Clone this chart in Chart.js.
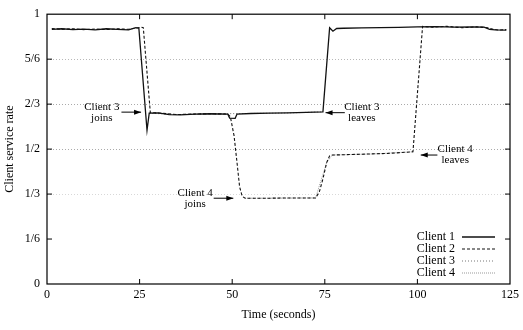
<!DOCTYPE html>
<html>
<head>
<meta charset="utf-8">
<script src="https://cdn.jsdelivr.net/npm/chart.js@4"></script>
<style>
  html, body { margin: 0; padding: 0; background: #fff; }
  canvas { display: block; }
</style>
</head>
<body>
<canvas id="chart" width="523" height="330"></canvas>
<script>
// === Data ===
const seriesNames = ["Client 1", "Client 2", "Client 3", "Client 4"];

const client1T = [1.3, 4, 7, 10, 13, 16, 19, 22, 24, 24.8, 27, 27.6, 30, 33, 36, 40, 44, 48.8, 49.3, 50.8, 51.3, 55, 60, 65, 70, 74.5, 76.3, 77.2, 78.2, 80, 85, 90, 95, 100, 105, 110, 115, 118, 119.5, 121, 124];
const client1V = [0.944, 0.946, 0.943, 0.945, 0.942, 0.946, 0.944, 0.942, 0.95, 0.948, 0.57, 0.633, 0.634, 0.628, 0.627, 0.630, 0.631, 0.630, 0.615, 0.614, 0.630, 0.632, 0.633, 0.634, 0.636, 0.638, 0.95, 0.937, 0.947, 0.948, 0.949, 0.950, 0.951, 0.953, 0.954, 0.952, 0.953, 0.952, 0.944, 0.942, 0.941];

const client2T = [1.3, 4, 7, 10, 13, 16, 19, 22, 25.5, 26, 27.9, 30, 35, 40, 44, 48.8, 49.5, 50.5, 51.3, 52, 52.7, 53.5, 60, 66, 72.5, 73.5, 74.5, 75.5, 76.3, 77, 85, 92, 98.8, 101.4, 104, 108, 112, 116, 119, 120.5, 122, 124];
const client2V = [0.947, 0.944, 0.946, 0.943, 0.945, 0.943, 0.946, 0.944, 0.952, 0.95, 0.635, 0.634, 0.628, 0.630, 0.631, 0.630, 0.62, 0.55, 0.45, 0.36, 0.325, 0.318, 0.318, 0.319, 0.319, 0.34, 0.39, 0.45, 0.475, 0.478, 0.481, 0.484, 0.49, 0.955, 0.952, 0.955, 0.95, 0.953, 0.95, 0.944, 0.941, 0.943];

const client3T = [27.6, 35, 45, 55, 65, 74.5];
const client3V = [0.633, 0.628, 0.631, 0.632, 0.634, 0.638];

const client4T = [53.5, 60, 72.5, 75.5, 77, 88, 98.8];
const client4V = [0.318, 0.318, 0.319, 0.45, 0.478, 0.482, 0.49];

const xTicks = [0, 25, 50, 75, 100, 125];
const yTickValues = [0, 1/6, 1/3, 1/2, 2/3, 5/6, 1];
const yTickLabels = ["0", "1/6", "1/3", "1/2", "2/3", "5/6", "1"];

// annotation texts with arrow (from -> to), in data units
const notes = [
  { lines: ["Client 3", "joins"],  at: [14.8, 0.657], from: [20.1, 0.637], to: [25.4, 0.637] },
  { lines: ["Client 3", "leaves"], at: [85.0, 0.657], from: [80.4, 0.635], to: [75.2, 0.635] },
  { lines: ["Client 4", "joins"],  at: [40.0, 0.336], from: [45.0, 0.318], to: [50.3, 0.318] },
  { lines: ["Client 4", "leaves"], at: [110.2, 0.500], from: [105.4, 0.478], to: [100.9, 0.478] }
];

// === Styles ===
const SERIF = "'Liberation Serif', 'DejaVu Serif', serif";
const lineStyles = [
  { color: "#111", width: 1.3, dash: [] },
  { color: "#111", width: 1.1, dash: [3, 2] },
  { color: "#777", width: 1.0, dash: [1, 2] },
  { color: "#999", width: 1.0, dash: [1, 1] }
];
const gridColors = ["rgba(0,0,0,0)", "rgba(0,0,0,0)", "#d8d8d8", "#aaa", "#aaa", "#b8b8b8", "rgba(0,0,0,0)"];

const pairs = (ts, vs) => ts.map((t, i) => ({ x: t, y: vs[i] }));
const allData = [pairs(client1T, client1V), pairs(client2T, client2V), pairs(client3T, client3V), pairs(client4T, client4V)];

const datasets = seriesNames.map((name, i) => ({
  label: name,
  data: allData[i],
  borderColor: lineStyles[i].color,
  borderWidth: lineStyles[i].width,
  borderDash: lineStyles[i].dash,
  pointRadius: 0,
  tension: 0,
  fill: false
}));

// frame, inward ticks, legend, annotations
const decor = {
  id: "decor",
  afterDatasetsDraw(chart) {
    const { ctx, chartArea: a, scales: { x, y } } = chart;
    ctx.save();
    ctx.strokeStyle = "#000";
    ctx.lineWidth = 1.2;
    ctx.setLineDash([]);
    ctx.strokeRect(a.left, a.top, a.right - a.left, a.bottom - a.top);

    const tl = 5;
    ctx.lineWidth = 1;
    ctx.beginPath();
    xTicks.slice(1, -1).forEach(v => {
      const px = x.getPixelForValue(v);
      ctx.moveTo(px, a.bottom); ctx.lineTo(px, a.bottom - tl);
      ctx.moveTo(px, a.top); ctx.lineTo(px, a.top + tl);
    });
    yTickValues.slice(1, -1).forEach(v => {
      const py = y.getPixelForValue(v);
      ctx.moveTo(a.left, py); ctx.lineTo(a.left + tl, py);
      ctx.moveTo(a.right, py); ctx.lineTo(a.right - tl, py);
    });
    ctx.stroke();

    // legend (bottom right, inside the plot)
    ctx.font = "12px " + SERIF;
    ctx.fillStyle = "#000";
    ctx.textAlign = "right";
    ctx.textBaseline = "middle";
    datasets.forEach((ds, i) => {
      const ry = a.bottom - 47 + i * 12;
      ctx.fillText(ds.label, a.right - 55, ry);
      ctx.beginPath();
      ctx.strokeStyle = ds.borderColor;
      ctx.lineWidth = ds.borderWidth;
      ctx.setLineDash(ds.borderDash);
      ctx.moveTo(a.right - 48, ry);
      ctx.lineTo(a.right - 15, ry);
      ctx.stroke();
    });

    // annotations
    ctx.setLineDash([]);
    ctx.strokeStyle = "#000";
    ctx.fillStyle = "#000";
    ctx.lineWidth = 1;
    ctx.font = "11px " + SERIF;
    ctx.textAlign = "center";
    notes.forEach(n => {
      const tx = x.getPixelForValue(n.at[0]);
      const ty = y.getPixelForValue(n.at[1]);
      n.lines.forEach((s, k) => ctx.fillText(s, tx, ty + k * 11));
      const x1 = x.getPixelForValue(n.from[0]), y1 = y.getPixelForValue(n.from[1]);
      const x2 = x.getPixelForValue(n.to[0]), y2 = y.getPixelForValue(n.to[1]);
      ctx.beginPath();
      ctx.moveTo(x1, y1); ctx.lineTo(x2, y2);
      ctx.stroke();
      const dir = Math.sign(x2 - x1);
      ctx.beginPath();
      ctx.moveTo(x2, y2);
      ctx.lineTo(x2 - dir * 7, y2 - 2.5);
      ctx.lineTo(x2 - dir * 7, y2 + 2.5);
      ctx.closePath();
      ctx.fill();
    });
    ctx.restore();
  }
};

Chart.defaults.font.family = SERIF;
Chart.defaults.color = "#000";

new Chart(document.getElementById("chart"), {
  type: "line",
  data: { datasets },
  options: {
    responsive: false,
    animation: false,
    devicePixelRatio: 1,
    layout: { padding: { top: 10, right: 10, left: 0, bottom: 0 } },
    plugins: { legend: { display: false }, tooltip: { enabled: false } },
    scales: {
      x: {
        type: "linear",
        min: 0, max: 125,
        afterBuildTicks: s => { s.ticks = xTicks.map(v => ({ value: v })); },
        afterFit: s => { s.height = 46; },
        ticks: { font: { size: 12 }, padding: 4, maxRotation: 0 },
        grid: { display: false, drawTicks: false },
        border: { display: false },
        title: { display: true, text: "Time (seconds)", font: { size: 12 }, padding: { top: 0, bottom: 8 } }
      },
      y: {
        type: "linear",
        min: 0, max: 1,
        afterBuildTicks: s => { s.ticks = yTickValues.map(v => ({ value: v })); },
        afterFit: s => { s.width = 47; },
        ticks: { font: { size: 12 }, padding: 7, callback: (v, i) => yTickLabels[i] },
        grid: { drawTicks: false, color: gridColors, lineWidth: 1 },
        border: { display: false, dash: [1, 2] },
        title: { display: true, text: "Client service rate", font: { size: 12 }, padding: { top: 3, bottom: 0 } }
      }
    }
  },
  plugins: [decor]
});
</script>
</body>
</html>
